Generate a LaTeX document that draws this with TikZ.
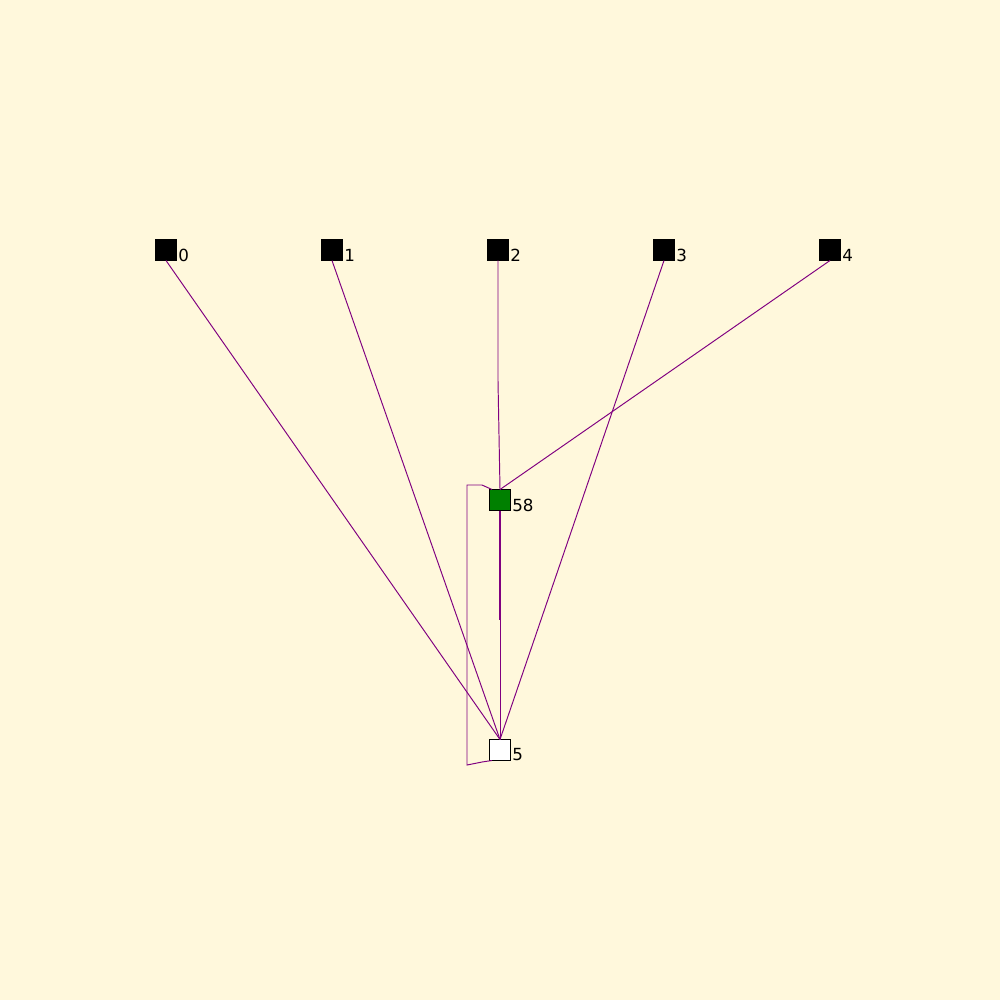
\documentclass[tikz,border=0pt]{standalone}
\usepackage{fontspec}
\setmainfont{DejaVu Sans}
\definecolor{bg}{HTML}{FFF8DC}
\definecolor{edge}{HTML}{800080}
\definecolor{green58}{HTML}{008000}
\begin{document}
\begin{tikzpicture}[x=0.02cm,y=-0.02cm,
  vert/.style={draw=black,line width=0.5pt,minimum size=0.42cm,inner sep=0pt,outer sep=0pt},
  lbl/.style={anchor=west,inner sep=0pt,font=\fontsize{9.5}{10}\selectfont},
  conn/.style={draw=edge,line width=0.55pt}]
\fill[bg] (0,0) rectangle (1000,1000);
\useasboundingbox (0,0) rectangle (1000,1000);
\node[vert,fill=black] (n0) at (166,250) {};
\node[vert,fill=black] (n1) at (332,250) {};
\node[vert,fill=black] (n2) at (498,250) {};
\node[vert,fill=black] (n3) at (664,250) {};
\node[vert,fill=black] (n4) at (830,250) {};
\node[vert,fill=green58] (n58) at (500,500) {};
\node[vert,fill=white] (n5) at (500,750) {};
\node[lbl] (l0) at (178,255) {0};
\node[lbl] (l1) at (344,255) {1};
\node[lbl] (l2) at (510,255) {2};
\node[lbl] (l3) at (676,255) {3};
\node[lbl] (l4) at (842,255) {4};
\node[lbl] (l58) at (512,505) {58};
\node[lbl] (l5) at (512,755) {5};
\coordinate (b2) at (498,381);
\coordinate (m58) at (500,620);
\coordinate (la) at (467,485);
\coordinate (la2) at (482,485);
\coordinate (lb) at (467,765);
\coordinate (lb2) at (482,762);
\draw[conn] (n0.south) -- (n5.north);
\draw[conn] (n1.south) -- (n5.north);
\draw[conn] (n3.south) -- (n5.north);
\draw[conn] (n2.south) -- (b2) -- (n58.north);
\draw[conn] (n4.south) -- (n58.north);
\draw[conn] (n58.south) -- (n5.north);
\draw[conn,line width=1.1pt] (n58.south) -- (m58);
\draw[conn] ([xshift=-0.16cm]n58.north) -- (la2) -- (la) -- (lb) -- (lb2) -- ([xshift=-0.16cm]n5.south);
\end{tikzpicture}
\end{document}
